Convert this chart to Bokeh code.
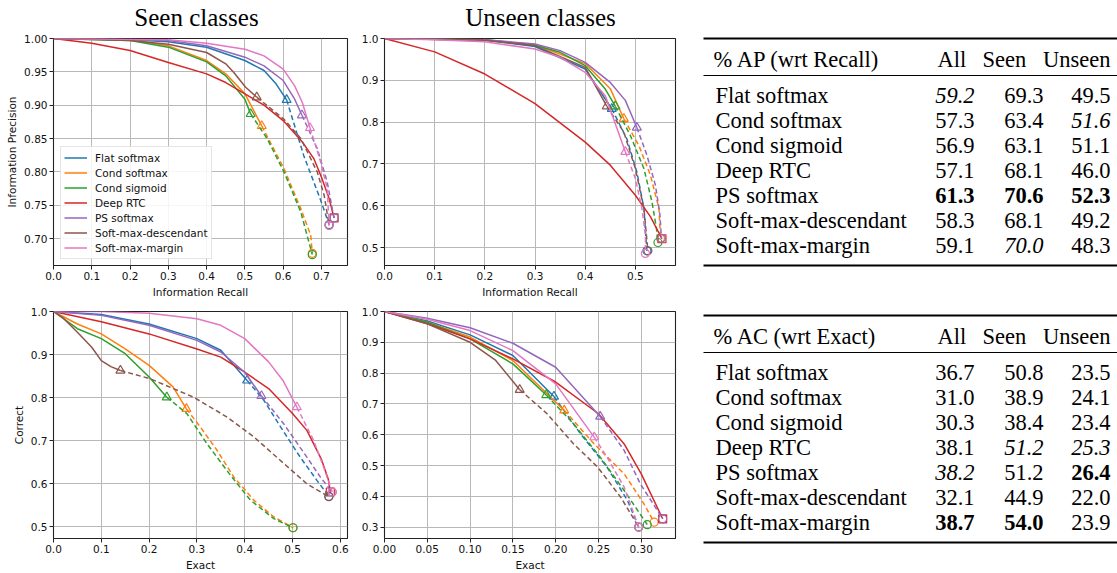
from bokeh.plotting import figure
from bokeh.layouts import row, column
from bokeh.models import Range1d, FixedTicker, PrintfTickFormatter, Legend, LegendItem, ColumnDataSource
from bokeh.embed import file_html
from bokeh.resources import INLINE
from bokeh.core.properties import value

METHODS = ["Flat softmax", "Cond softmax", "Cond sigmoid", "Deep RTC",
           "PS softmax", "Soft-max-descendant", "Soft-max-margin"]
COLORS = ["#1f77b4", "#ff7f0e", "#2ca02c", "#d62728", "#9467bd", "#8c564b", "#e377c2"]

# ---------------- Seen classes: Information Precision vs Information Recall
ap_seen_flat_x = [0, 0.2, 0.3, 0.4, 0.5, 0.55, 0.58, 0.609, 0.654, 0.697, 0.72]
ap_seen_flat_y = [1, 0.998, 0.995, 0.987, 0.967, 0.952, 0.933, 0.908, 0.824, 0.759, 0.721]
ap_seen_cs_x = [0, 0.2, 0.3, 0.4, 0.45, 0.5, 0.544, 0.602, 0.646, 0.672, 0.676]
ap_seen_cs_y = [1, 0.998, 0.989, 0.967, 0.947, 0.917, 0.869, 0.805, 0.745, 0.705, 0.678]
ap_seen_cg_x = [0, 0.2, 0.3, 0.4, 0.45, 0.5, 0.515, 0.558, 0.602, 0.646, 0.676]
ap_seen_cg_y = [1, 0.997, 0.987, 0.965, 0.944, 0.909, 0.887, 0.85, 0.80, 0.74, 0.676]
ap_seen_rtc_x = [0, 0.1, 0.2, 0.3, 0.4, 0.45, 0.5, 0.55, 0.6, 0.65, 0.68, 0.7, 0.72, 0.733]
ap_seen_rtc_y = [1, 0.993, 0.982, 0.964, 0.947, 0.934, 0.917, 0.9, 0.877, 0.845, 0.82, 0.792, 0.76, 0.731]
ap_seen_ps_x = [0, 0.3, 0.4, 0.5, 0.55, 0.6, 0.63, 0.649, 0.689, 0.715, 0.728, 0.733]
ap_seen_ps_y = [1, 0.997, 0.989, 0.972, 0.959, 0.937, 0.909, 0.885, 0.835, 0.785, 0.745, 0.731]
ap_seen_desc_x = [0, 0.2, 0.3, 0.4, 0.45, 0.471, 0.502, 0.531, 0.602, 0.646, 0.689, 0.707, 0.72]
ap_seen_desc_y = [1, 0.997, 0.9915, 0.979, 0.962, 0.949, 0.927, 0.912, 0.879, 0.85, 0.80, 0.765, 0.72]
ap_seen_marg_x = [0, 0.3, 0.4, 0.5, 0.55, 0.6, 0.63, 0.65, 0.67, 0.698, 0.715, 0.72]
ap_seen_marg_y = [1, 0.998, 0.993, 0.984, 0.974, 0.954, 0.929, 0.904, 0.866, 0.815, 0.775, 0.72]
ap_seen_tri = [7, 6, 6, None, 7, 7, 8]

# ---------------- Unseen classes: Information Precision vs Information Recall
ap_unseen_flat_x = [0, 0.2, 0.3, 0.4, 0.453, 0.483, 0.503, 0.517, 0.523]
ap_unseen_flat_y = [1, 0.996, 0.981, 0.927, 0.832, 0.76, 0.681, 0.594, 0.492]
ap_unseen_cs_x = [0, 0.2, 0.3, 0.4, 0.45, 0.477, 0.507, 0.53, 0.547, 0.55]
ap_unseen_cs_y = [1, 0.997, 0.985, 0.94, 0.88, 0.808, 0.744, 0.673, 0.594, 0.522]
ap_unseen_cg_x = [0, 0.2, 0.3, 0.35, 0.4, 0.44, 0.46, 0.49, 0.517, 0.533, 0.542, 0.545]
ap_unseen_cg_y = [1, 0.997, 0.984, 0.967, 0.935, 0.879, 0.838, 0.768, 0.689, 0.61, 0.546, 0.512]
ap_unseen_rtc_x = [0, 0.1, 0.2, 0.3, 0.4, 0.45, 0.5, 0.53, 0.553]
ap_unseen_rtc_y = [1, 0.968, 0.915, 0.844, 0.752, 0.697, 0.625, 0.574, 0.521]
ap_unseen_ps_x = [0, 0.2, 0.3, 0.35, 0.4, 0.45, 0.48, 0.503, 0.523, 0.54, 0.549, 0.552]
ap_unseen_ps_y = [1, 0.997, 0.987, 0.971, 0.943, 0.895, 0.852, 0.787, 0.721, 0.649, 0.578, 0.522]
ap_unseen_desc_x = [0, 0.2, 0.3, 0.4, 0.443, 0.477, 0.5, 0.517, 0.525]
ap_unseen_desc_y = [1, 0.996, 0.983, 0.931, 0.838, 0.776, 0.689, 0.594, 0.492]
ap_unseen_marg_x = [0, 0.1, 0.2, 0.3, 0.35, 0.4, 0.44, 0.48, 0.5, 0.513, 0.52, 0.52]
ap_unseen_marg_y = [1, 0.997, 0.992, 0.975, 0.955, 0.919, 0.863, 0.729, 0.665, 0.594, 0.53, 0.486]
ap_unseen_tri = [4, 5, 6, None, 7, 4, 7]

# ---------------- Seen classes: Correct vs Exact
ac_seen_flat_x = [0, 0.1, 0.2, 0.3, 0.35, 0.405, 0.44, 0.475, 0.516, 0.551, 0.576]
ac_seen_flat_y = [1, 0.993, 0.971, 0.937, 0.91, 0.84, 0.794, 0.732, 0.662, 0.608, 0.571]
ac_seen_cs_x = [0, 0.05, 0.1, 0.15, 0.2, 0.25, 0.278, 0.307, 0.342, 0.377, 0.419, 0.461, 0.501]
ac_seen_cs_y = [1, 0.971, 0.948, 0.913, 0.875, 0.825, 0.774, 0.732, 0.678, 0.616, 0.562, 0.523, 0.498]
ac_seen_cg_x = [0, 0.05, 0.1, 0.15, 0.2, 0.237, 0.279, 0.321, 0.37, 0.412, 0.461, 0.501]
ac_seen_cg_y = [1, 0.96, 0.937, 0.902, 0.848, 0.801, 0.763, 0.693, 0.62, 0.562, 0.519, 0.498]
ac_seen_rtc_x = [0, 0.1, 0.2, 0.3, 0.35, 0.4, 0.45, 0.5, 0.53, 0.56, 0.575, 0.579]
ac_seen_rtc_y = [1, 0.976, 0.948, 0.913, 0.894, 0.859, 0.821, 0.763, 0.724, 0.658, 0.61, 0.581]
ac_seen_ps_x = [0, 0.1, 0.2, 0.3, 0.35, 0.4, 0.435, 0.481, 0.53, 0.558, 0.583]
ac_seen_ps_y = [1, 0.991, 0.968, 0.933, 0.906, 0.859, 0.804, 0.74, 0.662, 0.616, 0.581]
ac_seen_desc_x = [0, 0.02, 0.05, 0.08, 0.1, 0.12, 0.14, 0.202, 0.293, 0.363, 0.419, 0.482, 0.53, 0.576]
ac_seen_desc_y = [1, 0.985, 0.952, 0.917, 0.886, 0.872, 0.863, 0.844, 0.801, 0.755, 0.709, 0.647, 0.6, 0.57]
ac_seen_marg_x = [0, 0.1, 0.2, 0.3, 0.35, 0.4, 0.45, 0.48, 0.509, 0.544, 0.565, 0.583]
ac_seen_marg_y = [1, 1.0, 0.996, 0.983, 0.968, 0.937, 0.883, 0.84, 0.778, 0.701, 0.639, 0.581]
ac_seen_tri = [5, 6, 5, None, 6, 6, 8]

# ---------------- Unseen classes: Correct vs Exact
ac_unseen_flat_x = [0, 0.05, 0.1, 0.15, 0.198, 0.229, 0.26, 0.284, 0.297]
ac_unseen_flat_y = [1, 0.969, 0.924, 0.857, 0.724, 0.603, 0.495, 0.386, 0.30]
ac_unseen_cs_x = [0, 0.05, 0.1, 0.15, 0.21, 0.245, 0.28, 0.303, 0.315]
ac_unseen_cs_y = [1, 0.965, 0.917, 0.841, 0.679, 0.57, 0.473, 0.376, 0.316]
ac_unseen_cg_x = [0, 0.05, 0.1, 0.15, 0.189, 0.221, 0.252, 0.28, 0.307]
ac_unseen_cg_y = [1, 0.965, 0.911, 0.83, 0.729, 0.635, 0.527, 0.419, 0.308]
ac_unseen_rtc_x = [0, 0.05, 0.1, 0.15, 0.2, 0.25, 0.28, 0.3, 0.325]
ac_unseen_rtc_y = [1, 0.96, 0.911, 0.846, 0.771, 0.668, 0.57, 0.473, 0.327]
ac_unseen_ps_x = [0, 0.05, 0.1, 0.15, 0.2, 0.252, 0.28, 0.299, 0.325]
ac_unseen_ps_y = [1, 0.978, 0.947, 0.897, 0.819, 0.659, 0.549, 0.44, 0.327]
ac_unseen_desc_x = [0, 0.05, 0.1, 0.13, 0.158, 0.19, 0.221, 0.249, 0.276, 0.297]
ac_unseen_desc_y = [1, 0.96, 0.9, 0.841, 0.746, 0.668, 0.57, 0.495, 0.397, 0.30]
ac_unseen_marg_x = [0, 0.05, 0.1, 0.15, 0.2, 0.245, 0.26, 0.28, 0.297]
ac_unseen_marg_y = [1, 0.975, 0.938, 0.873, 0.765, 0.592, 0.527, 0.43, 0.30]
ac_unseen_tri = [4, 4, 4, None, 5, 4, 5]

# ---------------- ticks
ap_seen_xticks = [0.0, 0.1, 0.2, 0.3, 0.4, 0.5, 0.6, 0.7]
ap_seen_yticks = [0.70, 0.75, 0.80, 0.85, 0.90, 0.95, 1.00]
ap_unseen_xticks = [0.0, 0.1, 0.2, 0.3, 0.4, 0.5]
ap_unseen_yticks = [0.5, 0.6, 0.7, 0.8, 0.9, 1.0]
ac_seen_xticks = [0.0, 0.1, 0.2, 0.3, 0.4, 0.5, 0.6]
ac_seen_yticks = [0.5, 0.6, 0.7, 0.8, 0.9, 1.0]
ac_unseen_xticks = [0.0, 0.05, 0.10, 0.15, 0.20, 0.25, 0.30]
ac_unseen_yticks = [0.3, 0.4, 0.5, 0.6, 0.7, 0.8, 0.9, 1.0]

# ---------------- tables
TABLE_COLS = ["All", "Seen", "Unseen"]
ap_all = [59.2, 57.3, 56.9, 57.1, 61.3, 58.3, 59.1]
ap_seen = [69.3, 63.4, 63.1, 68.1, 70.6, 68.1, 70.0]
ap_unseen = [49.5, 51.6, 51.1, 46.0, 52.3, 49.2, 48.3]
ap_all_style = ["italic", "normal", "normal", "normal", "bold", "normal", "normal"]
ap_seen_style = ["normal", "normal", "normal", "normal", "bold", "normal", "italic"]
ap_unseen_style = ["normal", "italic", "normal", "normal", "bold", "normal", "normal"]
ac_all = [36.7, 31.0, 30.3, 38.1, 38.2, 32.1, 38.7]
ac_seen = [50.8, 38.9, 38.4, 51.2, 51.2, 44.9, 54.0]
ac_unseen = [23.5, 24.1, 23.4, 25.3, 26.4, 22.0, 23.9]
ac_all_style = ["normal", "normal", "normal", "normal", "italic", "normal", "bold"]
ac_seen_style = ["normal", "normal", "normal", "italic", "normal", "normal", "bold"]
ac_unseen_style = ["normal", "normal", "normal", "italic", "bold", "normal", "normal"]

TICK_FONT = "DejaVu Sans"
SERIF = "Liberation Serif"
TXT = "#111111"
BASE_FIX = -6  # Bokeh draws the alphabetic baseline a little lower than requested


def make_panel(xs_list, ys_list, tri, xr, yr, xticks, yticks, xfmt, yfmt,
               xlabel, ylabel, width, height, borders, legend=False):
    bl, br, bt, bb = borders
    p = figure(width=width, height=height, x_range=Range1d(*xr), y_range=Range1d(*yr),
               toolbar_location=None, output_backend="svg",
               min_border_left=bl, min_border_right=br, min_border_top=bt, min_border_bottom=bb)
    p.outline_line_color = "#222222"
    p.outline_line_width = 1.1
    p.background_fill_color = "white"
    p.border_fill_color = "white"
    p.xaxis.ticker = FixedTicker(ticks=xticks)
    p.yaxis.ticker = FixedTicker(ticks=yticks)
    p.xaxis.formatter = PrintfTickFormatter(format=xfmt)
    p.yaxis.formatter = PrintfTickFormatter(format=yfmt)
    p.xaxis.axis_label = xlabel
    if ylabel:
        p.yaxis.axis_label = ylabel
    for ax in (p.xaxis, p.yaxis):
        ax.axis_line_color = None
        ax.major_tick_line_color = "#222222"
        ax.major_tick_out = 4
        ax.major_tick_in = 0
        ax.minor_tick_line_color = None
        ax.major_label_text_font = TICK_FONT
        ax.major_label_text_font_size = "10.5px"
        ax.major_label_text_color = TXT
        ax.major_label_standoff = 2
        ax.axis_label_text_font = TICK_FONT
        ax.axis_label_text_font_size = "10.5px"
        ax.axis_label_text_font_style = "normal"
        ax.axis_label_text_color = TXT
        ax.axis_label_standoff = 3
    p.grid.grid_line_color = "#b8b8b8"
    p.grid.grid_line_width = 1
    solids = []
    for i, (xs, ys) in enumerate(zip(xs_list, ys_list)):
        c = COLORS[i]
        t = tri[i]
        if t is None:
            r = p.line(xs, ys, line_color=c, line_width=1.5)
            p.scatter([xs[-1]], [ys[-1]], marker="square", size=8, fill_color=None,
                      line_color=c, line_width=1.2)
        else:
            r = p.line(xs[:t + 1], ys[:t + 1], line_color=c, line_width=1.5)
            p.line(xs[t:], ys[t:], line_color=c, line_width=1.5, line_dash="5 3")
            p.scatter([xs[t]], [ys[t]], marker="triangle", size=9, fill_color=None,
                      line_color=c, line_width=1.2)
            p.scatter([xs[-1]], [ys[-1]], marker="circle", size=8, fill_color=None,
                      line_color=c, line_width=1.2)
        solids.append(r)
    if legend:
        items = [LegendItem(label=m, renderers=[solids[i]]) for i, m in enumerate(METHODS)]
        lg = Legend(items=items, location=(7, 6))
        lg.label_text_font = TICK_FONT
        lg.label_text_font_size = "10.5px"
        lg.label_text_color = TXT
        lg.glyph_width = 23
        lg.glyph_height = 15
        lg.label_height = 15
        lg.label_standoff = 8
        lg.spacing = 0
        lg.padding = 3
        lg.margin = 0
        lg.border_line_color = "#cccccc"
        lg.border_line_width = 1
        lg.background_fill_alpha = 0.85
        p.add_layout(lg)
    return p


def make_table(fig_top, fig_h, rule_top, header, c_all, c_seen, c_unseen, s_all, s_seen, s_unseen):
    x0, x1 = 690, 1117
    p = figure(width=x1 - x0, height=fig_h, x_range=Range1d(x0, x1),
               y_range=Range1d(fig_top + fig_h, fig_top), toolbar_location=None,
               output_backend="svg", min_border=0, x_axis_location=None, y_axis_location=None)
    p.outline_line_color = None
    p.grid.visible = False
    p.background_fill_color = "white"
    p.border_fill_color = "white"
    rule_l = 703
    head_base = rule_top + 27 + BASE_FIX
    mid_rule = rule_top + 37
    row_base = [rule_top + 63 + 25 * i + BASE_FIX for i in range(len(METHODS))]
    bottom_rule = rule_top + 227
    p.segment(x0=[rule_l, rule_l], y0=[rule_top, bottom_rule], x1=[x1, x1], y1=[rule_top, bottom_rule],
              line_color="black", line_width=2)
    p.segment(x0=[rule_l], y0=[mid_rule], x1=[x1], y1=[mid_rule], line_color="black", line_width=1.2)
    fs = "22.5px"
    common = dict(text_font=value(SERIF), text_font_size=fs, text_baseline="alphabetic", text_color="black")
    p.text(x=[713], y=[head_base], text=[header], text_align="left", **common)
    p.text(x=[937, 982], y=[head_base, head_base], text=TABLE_COLS[:2], text_align="left", **common)
    p.text(x=[1110], y=[head_base], text=TABLE_COLS[2:], text_align="right", **common)
    p.text(x=[715] * len(METHODS), y=row_base, text=METHODS, text_align="left", **common)
    for xr, vals, styles in ((974, c_all, s_all), (1043, c_seen, s_seen), (1110, c_unseen, s_unseen)):
        src = ColumnDataSource(dict(x=[xr] * len(vals), y=row_base,
                                    t=["%.1f" % v for v in vals], s=styles))
        p.text(x="x", y="y", text="t", source=src, text_align="right", text_font_style="s", **common)
    return p


# ---------------- build panels
tl = make_panel([ap_seen_flat_x, ap_seen_cs_x, ap_seen_cg_x, ap_seen_rtc_x, ap_seen_ps_x, ap_seen_desc_x, ap_seen_marg_x],
                [ap_seen_flat_y, ap_seen_cs_y, ap_seen_cg_y, ap_seen_rtc_y, ap_seen_ps_y, ap_seen_desc_y, ap_seen_marg_y],
                ap_seen_tri, (0, 0.768), (0.6597, 1.0), ap_seen_xticks, ap_seen_yticks, "%.1f", "%.2f",
                "Information Recall", "Information Precision", 350, 269, (53, 3, 7, 33), legend=True)
tr = make_panel([ap_unseen_flat_x, ap_unseen_cs_x, ap_unseen_cg_x, ap_unseen_rtc_x, ap_unseen_ps_x, ap_unseen_desc_x, ap_unseen_marg_x],
                [ap_unseen_flat_y, ap_unseen_cs_y, ap_unseen_cg_y, ap_unseen_rtc_y, ap_unseen_ps_y, ap_unseen_desc_y, ap_unseen_marg_y],
                ap_unseen_tri, (0, 0.58), (0.457, 1.0), ap_unseen_xticks, ap_unseen_yticks, "%.1f", "%.1f",
                "Information Recall", None, 340, 269, (34, 15, 7, 33))
bl = make_panel([ac_seen_flat_x, ac_seen_cs_x, ac_seen_cg_x, ac_seen_rtc_x, ac_seen_ps_x, ac_seen_desc_x, ac_seen_marg_x],
                [ac_seen_flat_y, ac_seen_cs_y, ac_seen_cg_y, ac_seen_rtc_y, ac_seen_ps_y, ac_seen_desc_y, ac_seen_marg_y],
                ac_seen_tri, (0, 0.615), (0.473, 1.0), ac_seen_xticks, ac_seen_yticks, "%.1f", "%.1f",
                "Exact", "Correct", 350, 273, (53, 3, 11, 35))
br = make_panel([ac_unseen_flat_x, ac_unseen_cs_x, ac_unseen_cg_x, ac_unseen_rtc_x, ac_unseen_ps_x, ac_unseen_desc_x, ac_unseen_marg_x],
                [ac_unseen_flat_y, ac_unseen_cs_y, ac_unseen_cg_y, ac_unseen_rtc_y, ac_unseen_ps_y, ac_unseen_desc_y, ac_unseen_marg_y],
                ac_unseen_tri, (0, 0.34), (0.263, 1.0), ac_unseen_xticks, ac_unseen_yticks, "%.2f", "%.1f",
                "Exact", None, 340, 273, (34, 15, 11, 35))

# titles strip
TITLES = ["Seen classes", "Unseen classes"]
TITLE_X = [196, 540]
strip = figure(width=690, height=31, x_range=Range1d(0, 690), y_range=Range1d(31, 0),
               toolbar_location=None, output_backend="svg", min_border=0,
               x_axis_location=None, y_axis_location=None)
strip.outline_line_color = None
strip.grid.visible = False
strip.text(x=TITLE_X, y=[23 + BASE_FIX] * 2, text=TITLES, text_align="center", text_baseline="alphabetic",
           text_font=value(SERIF), text_font_size="25px", text_color="black")

tt = make_table(0, 300, 38, "% AP (wrt Recall)", ap_all, ap_seen, ap_unseen,
                ap_all_style, ap_seen_style, ap_unseen_style)
tb = make_table(300, 273, 315, "% AC (wrt Exact)", ac_all, ac_seen, ac_unseen,
                ac_all_style, ac_seen_style, ac_unseen_style)

layout = row(column(strip, row(tl, tr), row(bl, br)), column(tt, tb))

open("out.html", "w").write(file_html(layout, INLINE))
